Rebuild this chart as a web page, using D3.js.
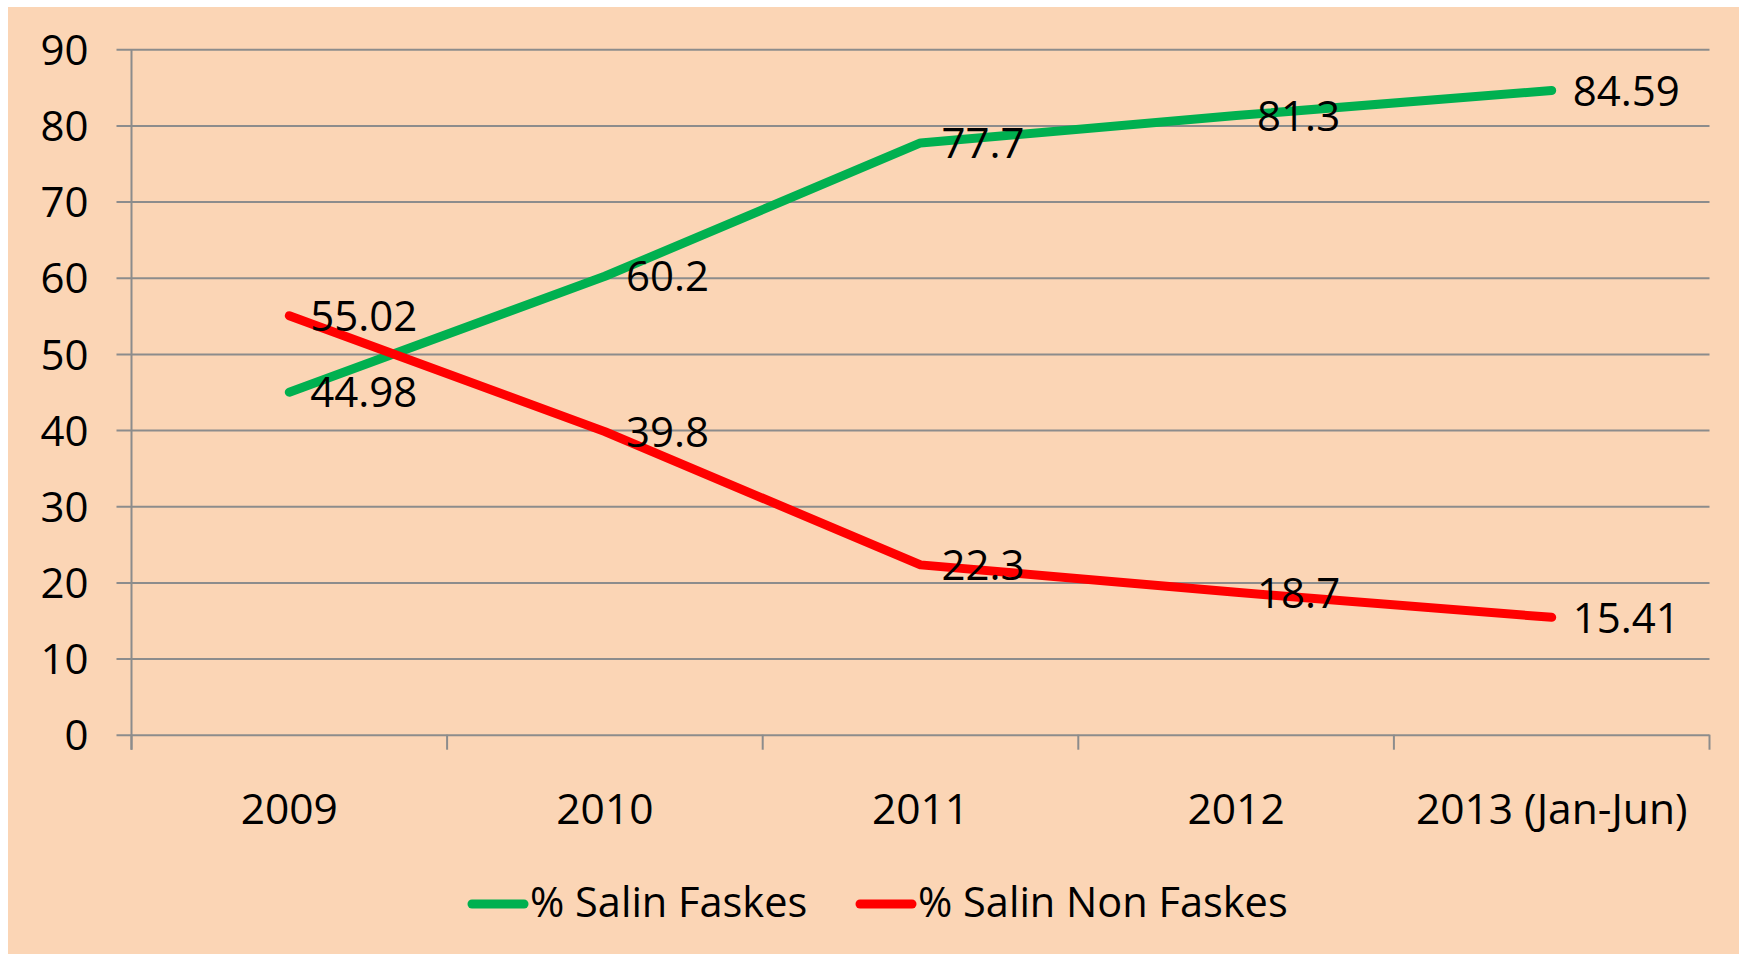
<!DOCTYPE html>
<html>
<head>
<meta charset="utf-8">
<script src="https://cdn.jsdelivr.net/npm/d3@7"></script>
<style>
  body { margin: 0; background: #ffffff; }
  text { font-family: "Open Sans", "Noto Sans", sans-serif; fill: #000; }
</style>
</head>
<body>
<div id="chart"></div>
<script>
'use strict'

// data
const categories = ['2009', '2010', '2011', '2012', '2013 (Jan-Jun)']
const faskes = [44.98, 60.2, 77.7, 81.3, 84.59]
const nonFaskes = [55.02, 39.8, 22.3, 18.7, 15.41]
const yTicks = [0, 10, 20, 30, 40, 50, 60, 70, 80, 90]
const seriesNames = ['% Salin Faskes', '% Salin Non Faskes']
const seriesColors = ['#00b050', '#ff0000']

const svgWidth = 1739
const svgHeight = 954

// plot area
const margin = { left: 131.5, right: 29.5, top: 49.3, bottom: 219.3 }
const width = svgWidth - margin.left - margin.right
const height = svgHeight - margin.top - margin.bottom

const svg = d3.select('#chart')
    .append('svg')
    .attr('width', svgWidth)
    .attr('height', svgHeight)

// background
svg.append('rect')
    .attr('x', 8)
    .attr('y', 7)
    .attr('width', svgWidth - 8)
    .attr('height', svgHeight - 7)
    .attr('fill', '#fbd5b5')

const g = svg.append('g')
    .attr('transform', `translate(${margin.left},${margin.top})`)

////////////// scales //////////////

const xBand = d3.scaleBand()
    .domain(categories)
    .range([0, width])
    .paddingInner(0)
    .paddingOuter(0)

const xScale = d => xBand(d) + xBand.bandwidth() / 2

const yScale = d3.scaleLinear()
    .domain([0, 90])
    .range([height, 0])

////////////// axes //////////////

const gridColor = '#8c8c8c'

// gridlines + y ticks
const yAxis = d3.axisLeft(yScale)
    .tickValues(yTicks)
    .tickSize(-(width + 15))
    .tickSizeOuter(0)
    .tickPadding(28)

const yG = g.append('g')
    .attr('transform', 'translate(-15,0)')
    .call(yAxis)
yG.select('.domain').remove()
yG.selectAll('.tick line')
    .attr('stroke', gridColor)
    .attr('stroke-width', 2)
yG.selectAll('.tick text')
    .style('font-size', '42px')
    .attr('dy', '0.36em')

// vertical axis line
g.append('line')
    .attr('x1', 0).attr('x2', 0)
    .attr('y1', 0).attr('y2', height + 15)
    .attr('stroke', gridColor)
    .attr('stroke-width', 2)

// x ticks at the band edges
const edges = categories.map(c => xBand(c)).concat([width])
g.selectAll('.x-tick')
    .data(edges)
    .join('line')
    .attr('class', 'x-tick')
    .attr('x1', d => d).attr('x2', d => d)
    .attr('y1', height).attr('y2', height + 15)
    .attr('stroke', gridColor)
    .attr('stroke-width', 2)

g.selectAll('.x-label')
    .data(categories)
    .join('text')
    .attr('class', 'x-label')
    .attr('x', d => xScale(d))
    .attr('y', height + 78)
    .attr('text-anchor', 'middle')
    .attr('dominant-baseline', 'middle')
    .style('font-size', '42.5px')
    .text(d => d)

////////////// lines //////////////

const series = [faskes, nonFaskes]

const line = d3.line()
    .x((d, i) => xScale(categories[i]))
    .y(d => yScale(d))

series.forEach((values, s) => {
    g.append('path')
        .datum(values)
        .attr('d', line)
        .attr('fill', 'none')
        .attr('stroke', seriesColors[s])
        .attr('stroke-width', 9)
        .attr('stroke-linecap', 'round')
        .attr('stroke-linejoin', 'round')
})

// data labels, to the right of each point
series.forEach((values, s) => {
    g.selectAll('.label-' + s)
        .data(values)
        .join('text')
        .attr('class', 'label-' + s)
        .attr('x', (d, i) => xScale(categories[i]) + 21)
        .attr('y', d => yScale(d) + 4)
        .attr('dominant-baseline', 'middle')
        .style('font-size', '42px')
        .text(d => d)
})

////////////// legend //////////////

const legendX = [468, 856]
const legendY = 904

const legend = svg.selectAll('.legend')
    .data(seriesNames)
    .join('g')
    .attr('class', 'legend')
    .attr('transform', (d, i) => `translate(${legendX[i]},${legendY})`)

legend.append('line')
    .attr('x1', 4).attr('x2', 56)
    .attr('y1', 0).attr('y2', 0)
    .attr('stroke', (d, i) => seriesColors[i])
    .attr('stroke-width', 9)
    .attr('stroke-linecap', 'round')

legend.append('text')
    .attr('x', 62)
    .attr('y', 2)
    .attr('dominant-baseline', 'middle')
    .style('font-size', '41.5px')
    .text(d => d)
</script>
</body>
</html>
